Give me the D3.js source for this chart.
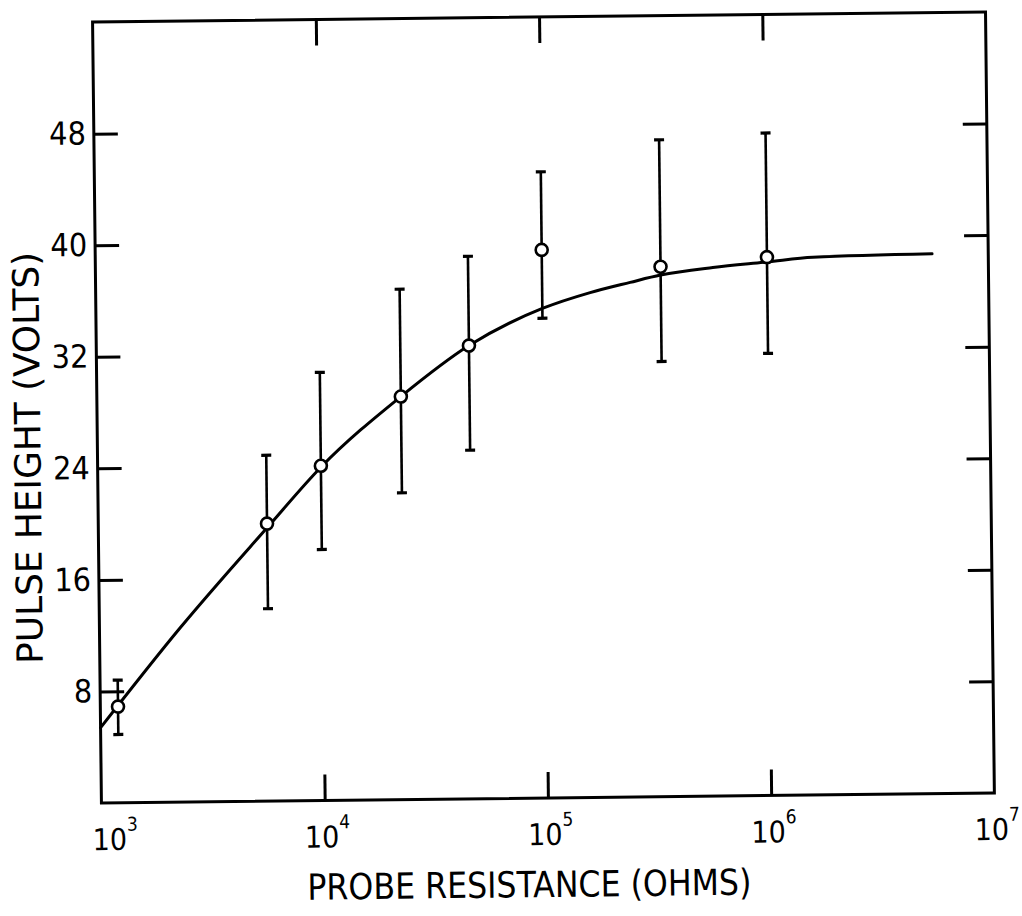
<!DOCTYPE html>
<html>
<head>
<meta charset="utf-8">
<script src="https://cdn.jsdelivr.net/npm/d3@7"></script>
<style>
  html, body { margin: 0; padding: 0; background: #fff; }
  svg { display: block; }
  text { font-family: "DejaVu Sans Condensed", "DejaVu Sans", sans-serif; fill: #000; }
</style>
</head>
<body>
<script>
// ---- data ----
const resistance = [1.2e3, 5.7e3, 1.0e4, 2.3e4, 4.67e4, 1.0e5, 3.4e5, 1.02e6];
const pulseHeight = [6.9, 19.9, 24.0, 28.9, 32.5, 39.3, 38.0, 38.6];
const errLow  = [4.9, 13.8, 18.0, 22.0, 25.0, 34.4, 31.2, 31.7];
const errHigh = [8.8, 24.8, 30.7, 36.6, 38.9, 44.9, 47.1, 47.5];

const curveR = [1.0e3, 2.3e3, 5.7e3, 1.0e4, 2.3e4, 4.67e4, 1.0e5, 1.64e5, 2.48e5, 3.4e5, 5.83e5, 1.02e6, 1.64e6, 5.6e6];
const curveV = [5.4, 12.5, 19.6, 23.9, 28.9, 32.5, 35.1, 36.2, 36.9, 37.4, 37.9, 38.25, 38.55, 38.7];

const yTicks = [8, 16, 24, 32, 40, 48];
const xTicks = [1e3, 1e4, 1e5, 1e6, 1e7];
const xInnerTicks = [1e4, 1e5, 1e6];
const xExponents = ["3", "4", "5", "6", "7"];
const xTitle = "PROBE RESISTANCE (OHMS)";
const yTitle = "PULSE HEIGHT (VOLTS)";

// ---- layout ----
const W = 1022, H = 916;
const xScale = d3.scaleLog().domain([1e3, 1e7]).range([97, 990]);
const yScale = d3.scaleLinear().domain([0, 56]).range([798, 17]);

const svg = d3.select("body").append("svg").attr("width", W).attr("height", H);
svg.append("rect").attr("width", W).attr("height", H).attr("fill", "#fff");

// scanned page is slightly rotated
const g = svg.append("g").attr("transform", "rotate(-0.65,543,410)");

// frame
g.append("rect")
  .attr("x", xScale(1e3)).attr("y", yScale(56))
  .attr("width", xScale(1e7) - xScale(1e3)).attr("height", yScale(0) - yScale(56))
  .attr("fill", "none").attr("stroke", "#000").attr("stroke-width", 3);

function styleAxis(sel) {
  sel.select(".domain").remove();
  sel.selectAll(".tick line").attr("stroke", "#000").attr("stroke-width", 3);
}

// left axis with labels
const axLeft = g.append("g").attr("transform", `translate(${xScale(1e3)},0)`)
  .call(d3.axisLeft(yScale).tickValues(yTicks).tickSizeInner(-24).tickSizeOuter(0).tickPadding(8).tickFormat(d3.format("d")));
styleAxis(axLeft);
axLeft.selectAll(".tick text").attr("font-size", 32).attr("fill", "#000")
  .style("font-family", '"DejaVu Sans Condensed", "DejaVu Sans", sans-serif');

// right axis ticks
const axRight = g.append("g").attr("transform", `translate(${xScale(1e7)},0)`)
  .call(d3.axisRight(yScale).tickValues(yTicks).tickSizeInner(-24).tickSizeOuter(0).tickFormat(""));
styleAxis(axRight);

// top axis ticks
const axTop = g.append("g").attr("transform", `translate(0,${yScale(56)})`)
  .call(d3.axisTop(xScale).tickValues(xInnerTicks).tickSizeInner(-26).tickSizeOuter(0).tickFormat(""));
styleAxis(axTop);

// bottom axis
const axBottom = g.append("g").attr("transform", `translate(0,${yScale(0)})`)
  .call(d3.axisBottom(xScale).tickValues(xTicks).tickSizeInner(-26).tickSizeOuter(0).tickPadding(0).tickFormat(""));
styleAxis(axBottom);
axBottom.selectAll(".tick").each(function(d, i) {
  const t = d3.select(this);
  if (i === 0 || i === xTicks.length - 1) t.select("line").remove();
  t.select("text").remove();
  const lbl = t.append("text")
    .attr("x", i === 0 ? 13 : 2).attr("y", 47)
    .attr("text-anchor", "middle")
    .attr("font-size", 30)
    .style("font-family", '"DejaVu Sans Condensed", "DejaVu Sans", sans-serif')
    .attr("fill", "#000");
  lbl.append("tspan").text("10");
  lbl.append("tspan").attr("dy", -19).attr("font-size", 19).text(xExponents[i]);
});

// axis titles
g.append("text")
  .attr("x", 524).attr("y", 897)
  .attr("text-anchor", "middle")
  .attr("font-size", 36)
  .attr("textLength", 444).attr("lengthAdjust", "spacingAndGlyphs")
  .text(xTitle);

g.append("text")
  .attr("transform", "translate(40,452) rotate(-90)")
  .attr("text-anchor", "middle")
  .attr("font-size", 36)
  .attr("textLength", 412).attr("lengthAdjust", "spacingAndGlyphs")
  .text(yTitle);

// fitted curve
const line = d3.line()
  .x((d, i) => xScale(curveR[i]))
  .y((d, i) => yScale(curveV[i]))
  .curve(d3.curveMonotoneX);
g.append("path")
  .attr("d", line(curveR))
  .attr("fill", "none").attr("stroke", "#000").attr("stroke-width", 3)
  .attr("stroke-linecap", "round");

// error bars
const idx = d3.range(resistance.length);
const eb = g.append("g");
eb.selectAll("line.bar").data(idx).join("line").attr("class", "bar")
  .attr("x1", i => xScale(resistance[i])).attr("x2", i => xScale(resistance[i]))
  .attr("y1", i => yScale(errLow[i])).attr("y2", i => yScale(errHigh[i]))
  .attr("stroke", "#000").attr("stroke-width", 2.6);
eb.selectAll("line.capHi").data(idx).join("line").attr("class", "capHi")
  .attr("x1", i => xScale(resistance[i]) - 5).attr("x2", i => xScale(resistance[i]) + 5)
  .attr("y1", i => yScale(errHigh[i])).attr("y2", i => yScale(errHigh[i]))
  .attr("stroke", "#000").attr("stroke-width", 3.2);
eb.selectAll("line.capLo").data(idx).join("line").attr("class", "capLo")
  .attr("x1", i => xScale(resistance[i]) - 5).attr("x2", i => xScale(resistance[i]) + 5)
  .attr("y1", i => yScale(errLow[i])).attr("y2", i => yScale(errLow[i]))
  .attr("stroke", "#000").attr("stroke-width", 3.2);

// data points
g.append("g").selectAll("circle").data(idx).join("circle")
  .attr("cx", i => xScale(resistance[i])).attr("cy", i => yScale(pulseHeight[i]))
  .attr("r", 6)
  .attr("fill", "#fff").attr("stroke", "#000").attr("stroke-width", 2.6);
</script>
</body>
</html>
